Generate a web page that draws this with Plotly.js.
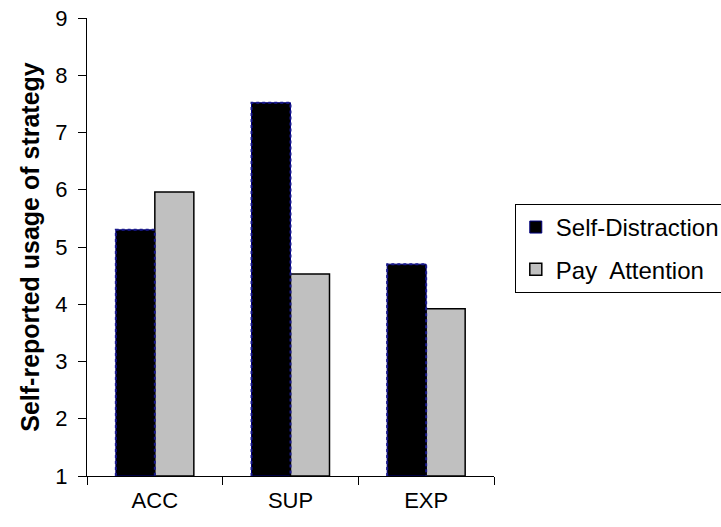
<!DOCTYPE html>
<html>
<head>
<meta charset="utf-8">
<script src="https://cdn.plot.ly/plotly-3.0.1.min.js"></script>
<style>
  html, body { margin: 0; padding: 0; background: #fff; }
  #chart { width: 721px; height: 527px; }
</style>
</head>
<body>
<div id="chart"></div>
<script>
// Strategy usage per condition
const categories = ['ACC', 'SUP', 'EXP'];
const selfDistraction = [5.30, 7.52, 4.70];
const payAttention = [5.96, 4.53, 3.92];
const seriesNames = ['Self-Distraction', 'Pay\u00a0 Attention'];
const yTicks = [1, 2, 3, 4, 5, 6, 7, 8, 9];

const BASE = 1;                 // bars rise from the bottom of the scale
const BAR_W = 0.2875;           // width of one bar in category units
const FONT = 'Arial, "Liberation Sans", sans-serif';
const xs = categories.map((_, i) => i);

// Dotted navy outline around the Self-Distraction bars (left, top, right sides)
const outX = [], outY = [];
selfDistraction.forEach((v, i) => {
  outX.push(i - BAR_W, i - BAR_W, i, i, null);
  outY.push(BASE, v, v, BASE, null);
});

const traces = [
  {
    type: 'bar', name: seriesNames[0], legendgroup: 'a',
    x: xs, y: selfDistraction.map(v => v - BASE), base: BASE,
    width: BAR_W, offset: -BAR_W,
    marker: { color: '#000000', line: { color: '#000080', width: 1 } }
  },
  {
    type: 'bar', name: seriesNames[1], legendgroup: 'b',
    x: xs, y: payAttention.map(v => v - BASE), base: BASE,
    width: BAR_W, offset: 0,
    marker: { color: '#c0c0c0', line: { color: '#000000', width: 1.5 } }
  },
  {
    type: 'scatter', mode: 'lines', showlegend: false, hoverinfo: 'skip',
    x: outX, y: outY, connectgaps: false,
    line: { color: '#1a1a8c', width: 2, dash: '3px,3px' }
  }
];

const layout = {
  width: 721, height: 527,
  margin: { l: 87, r: 227, t: 18, b: 51, autoexpand: false },
  paper_bgcolor: '#ffffff', plot_bgcolor: '#ffffff',
  font: { family: FONT, color: '#000000', size: 22 },
  showlegend: true,
  barmode: 'overlay',
  xaxis: {
    type: 'linear', range: [-0.5, 2.5],
    tickmode: 'array', tickvals: xs, ticktext: categories,
    ticks: '', showgrid: false, zeroline: false,
    showline: true, linecolor: '#000000', linewidth: 1,
    tickfont: { family: FONT, size: 22, color: '#000000' },
    ticklabelstandoff: 5,
    minor: { tickmode: 'linear', tick0: -0.5, dtick: 1, ticks: 'outside', ticklen: 8, tickcolor: '#000000', tickwidth: 1, showgrid: false },
    fixedrange: true
  },
  yaxis: {
    range: [1, 9], tickmode: 'array', tickvals: yTicks,
    ticks: 'outside', ticklen: 8, tickcolor: '#000000', tickwidth: 1,
    showgrid: false, zeroline: false,
    showline: true, linecolor: '#000000', linewidth: 1,
    tickfont: { family: FONT, size: 22, color: '#000000' },
    ticklabelstandoff: 6,
    title: { text: 'Self-reported usage of strategy', font: { family: FONT, size: 25, color: '#000000', weight: 'bold' }, standoff: 8 },
    fixedrange: true
  },
  legend: {
    xref: 'container', yref: 'container',
    x: 0.714, xanchor: 'left', y: 0.613, yanchor: 'top',
    bgcolor: '#ffffff', bordercolor: '#000000', borderwidth: 1,
    font: { family: FONT, size: 24, color: '#000000' },
    traceorder: 'grouped', tracegroupgap: 8
  }
};

Plotly.newPlot('chart', traces, layout, { displayModeBar: false, staticPlot: true });
</script>
</body>
</html>
